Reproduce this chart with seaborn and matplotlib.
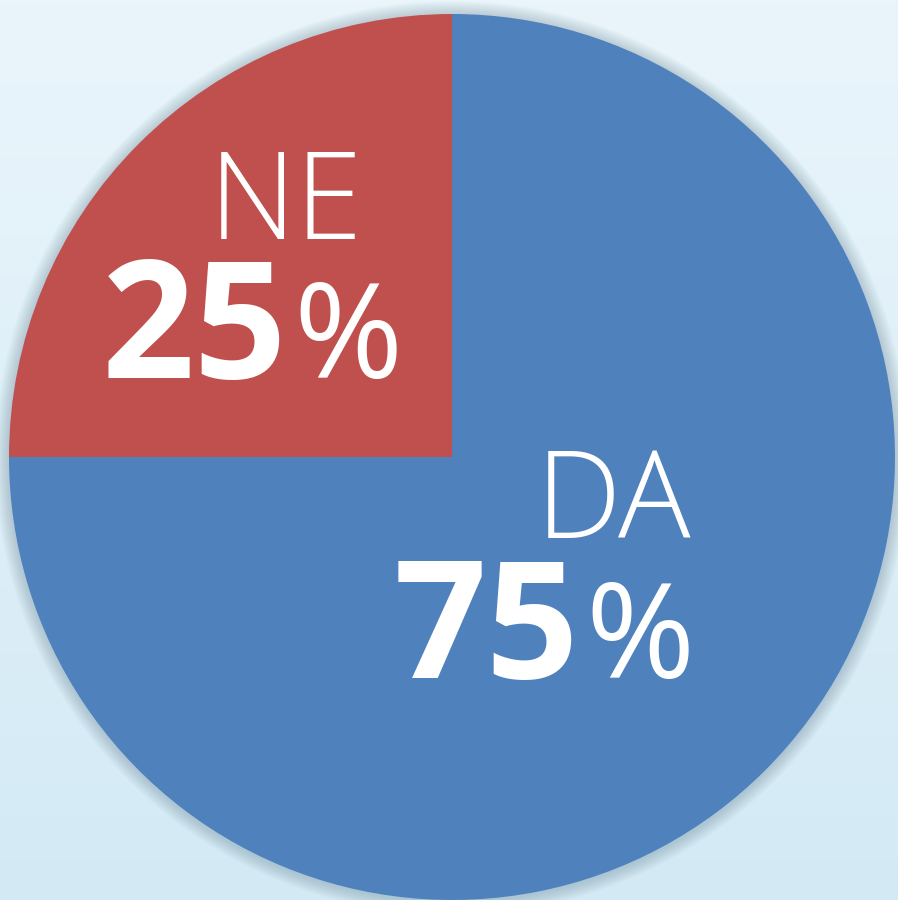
import numpy as np
import matplotlib
matplotlib.use("Agg")
import matplotlib.pyplot as plt
from matplotlib.colors import LinearSegmentedColormap
from matplotlib.patches import Circle
import seaborn as sns

# data
labels = ["DA", "NE"]
shares = [75, 25]
colors = ["#4F81BD", "#C0504D"]

sns.set_theme(style="white")
plt.rcParams["font.family"] = ["Open Sans", "DejaVu Sans"]

W, H = 898, 900
fig = plt.figure(figsize=(W / 100, H / 100), dpi=100)
ax = fig.add_axes([0, 0, 1, 1])

# background gradient
bg = LinearSegmentedColormap.from_list("bg", ["#D3EAF5", "#EAF5FB"])
grad = np.linspace(0, 1, 256).reshape(-1, 1)
ax.imshow(grad, cmap=bg, extent=[0, W, 0, H], origin="lower", aspect="auto", zorder=0)

cx, cy, r = 452, H - 457, 443

# soft shadow around the pie
for k in range(14, 0, -1):
    ax.add_patch(Circle((cx, cy - 1), r + k, color="#5a7a8c", alpha=0.025, lw=0, zorder=1))

ax.pie(shares, colors=colors, startangle=90, counterclock=False,
       center=(cx, cy), radius=r, frame=True,
       wedgeprops=dict(linewidth=0, zorder=2))
ax.set_xlim(0, W)
ax.set_ylim(0, H)
ax.set_aspect("equal")
ax.axis("off")

# labels
def label(name, pct, xc, y_name, y_pct, x_split):
    ax.text(xc, H - y_name, name, color="white", fontsize=87, fontweight="light",
            ha="center", va="baseline", zorder=3)
    ax.text(x_split, H - y_pct, str(pct), color="white", fontsize=117, fontweight="bold",
            ha="right", va="baseline", zorder=3)
    ax.text(x_split + 6, H - y_pct, "%", color="white", fontsize=95, fontweight="medium",
            ha="left", va="baseline", zorder=3)

label(labels[1], shares[1], 286, 239, 378, 287)
label(labels[0], shares[0], 614, 538, 678, 579)

fig.savefig("out.png", dpi=100)
